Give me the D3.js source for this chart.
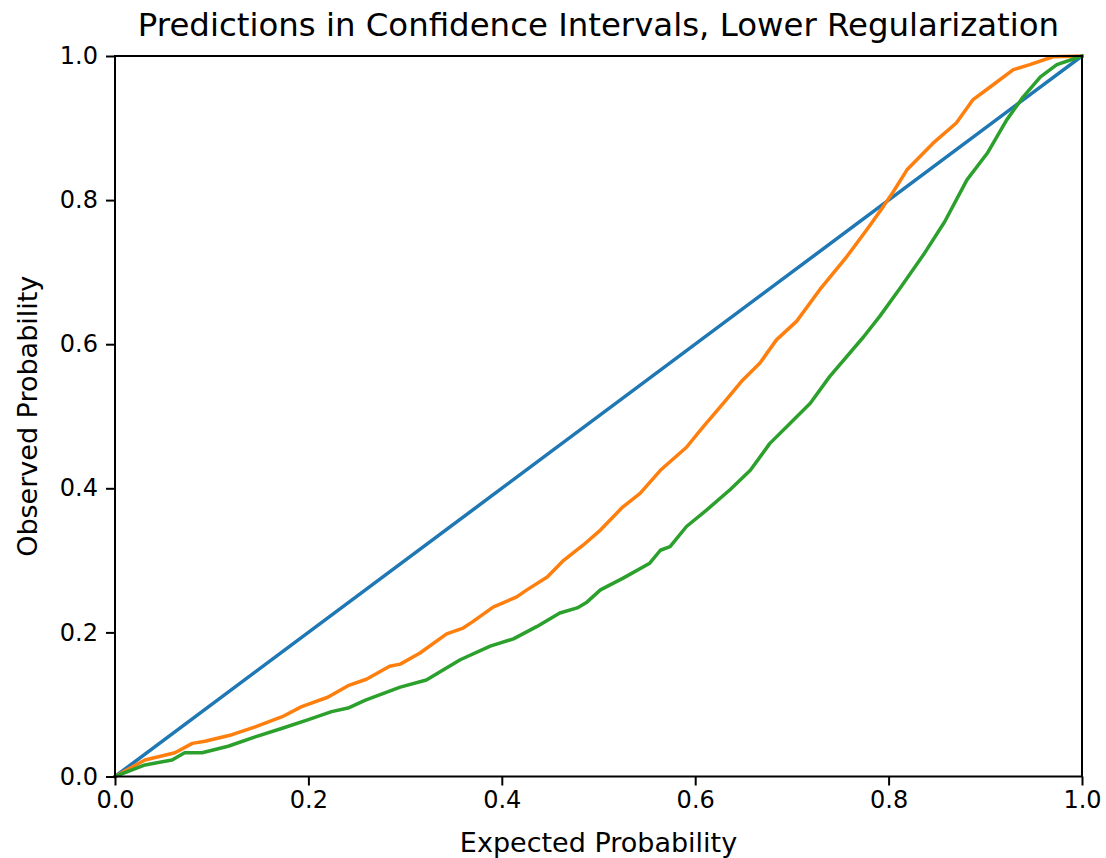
<!DOCTYPE html>
<html><head><meta charset="utf-8">
<script src="https://cdn.jsdelivr.net/npm/d3@7"></script>
<style>body{margin:0;background:#fff}svg{display:block}text{font-family:"DejaVu Sans",sans-serif;fill:#000}</style>
</head><body>
<svg id="c" width="1106" height="858"></svg>
<script>
const title = "Predictions in Confidence Intervals, Lower Regularization";
const xLabel = "Expected Probability";
const yLabel = "Observed Probability";
const tickValues = [0, 0.2, 0.4, 0.6, 0.8, 1.0];

const idealX = [0, 1];
const idealY = [0, 1];

const orangeX = [0, 0.031, 0.062, 0.08, 0.093, 0.121, 0.145, 0.173, 0.193, 0.22, 0.241, 0.26, 0.284, 0.295, 0.315, 0.343, 0.36, 0.37, 0.391, 0.415, 0.426, 0.447, 0.464, 0.484, 0.502, 0.525, 0.543, 0.564, 0.591, 0.608, 0.629, 0.649, 0.667, 0.684, 0.705, 0.729, 0.757, 0.778, 0.795, 0.805, 0.819, 0.846, 0.870, 0.887, 0.905, 0.929, 0.946, 0.970, 1.0];
const orangeY = [0, 0.023, 0.033, 0.046, 0.049, 0.058, 0.069, 0.083, 0.097, 0.11, 0.126, 0.135, 0.153, 0.156, 0.171, 0.198, 0.206, 0.215, 0.235, 0.249, 0.259, 0.277, 0.300, 0.321, 0.342, 0.374, 0.393, 0.425, 0.457, 0.485, 0.518, 0.550, 0.574, 0.606, 0.632, 0.676, 0.722, 0.76, 0.792, 0.812, 0.842, 0.879, 0.907, 0.939, 0.957, 0.981, 0.988, 0.999, 1.0];

const greenX = [0, 0.031, 0.059, 0.072, 0.09, 0.117, 0.145, 0.173, 0.2, 0.224, 0.241, 0.259, 0.295, 0.322, 0.357, 0.388, 0.412, 0.436, 0.46, 0.478, 0.488, 0.502, 0.525, 0.553, 0.564, 0.574, 0.591, 0.612, 0.636, 0.657, 0.677, 0.698, 0.719, 0.739, 0.774, 0.791, 0.812, 0.836, 0.858, 0.881, 0.902, 0.922, 0.939, 0.957, 0.974, 1.0];
const greenY = [0, 0.016, 0.023, 0.033, 0.033, 0.042, 0.055, 0.067, 0.079, 0.09, 0.095, 0.106, 0.124, 0.134, 0.162, 0.181, 0.191, 0.208, 0.227, 0.234, 0.242, 0.259, 0.275, 0.296, 0.314, 0.319, 0.347, 0.370, 0.398, 0.425, 0.462, 0.490, 0.518, 0.555, 0.610, 0.639, 0.678, 0.724, 0.770, 0.828, 0.865, 0.911, 0.943, 0.971, 0.988, 1.0];

const series = [
  {x: idealX, y: idealY, color: "#1f77b4"},
  {x: orangeX, y: orangeY, color: "#ff7f0e"},
  {x: greenX, y: greenY, color: "#2ca02c"}
];

const L = 115, R = 1082, T = 56, B = 776.5;
const svg = d3.select("#c");
const x = d3.scaleLinear().domain([0, 1]).range([L, R]);
const y = d3.scaleLinear().domain([0, 1]).range([B, T]);

svg.append("clipPath").attr("id", "clip").append("rect")
  .attr("x", L - 2).attr("y", T - 2).attr("width", R - L + 4).attr("height", B - T + 4);

const line = d3.line().x(d => x(d[0])).y(d => y(d[1]));
const g = svg.append("g").attr("clip-path", "url(#clip)");
series.forEach(s => {
  g.append("path").datum(s.x.map((v, i) => [v, s.y[i]]))
    .attr("d", line).attr("fill", "none").attr("stroke", s.color)
    .attr("stroke-width", 3.5).attr("stroke-linejoin", "round").attr("stroke-linecap", "square");
});

const fmt = d3.format(".1f");
const xAxis = svg.append("g").attr("transform", `translate(0,${B})`)
  .call(d3.axisBottom(x).tickValues(tickValues).tickFormat(fmt).tickSize(9).tickPadding(5));
const yAxis = svg.append("g").attr("transform", `translate(${L},0)`)
  .call(d3.axisLeft(y).tickValues(tickValues).tickFormat(fmt).tickSize(9).tickPadding(8));
[xAxis, yAxis].forEach(a => {
  a.select(".domain").remove();
  a.selectAll("line").attr("stroke", "#000").attr("stroke-width", 2);
  a.selectAll("text").attr("font-size", 24).attr("font-family", "DejaVu Sans").attr("fill", "#000");
});

svg.append("rect").attr("x", L).attr("y", T).attr("width", R - L).attr("height", B - T)
  .attr("fill", "none").attr("stroke", "#000").attr("stroke-width", 2);

svg.append("text").attr("x", (L + R) / 2).attr("y", 36).attr("text-anchor", "middle")
  .attr("font-size", 32.4).text(title);
svg.append("text").attr("x", (L + R) / 2).attr("y", 852).attr("text-anchor", "middle")
  .attr("font-size", 27).text(xLabel);
svg.append("text").attr("transform", `translate(37,${(T + B) / 2}) rotate(-90)`).attr("text-anchor", "middle")
  .attr("font-size", 27).text(yLabel);
</script>
</body></html>
